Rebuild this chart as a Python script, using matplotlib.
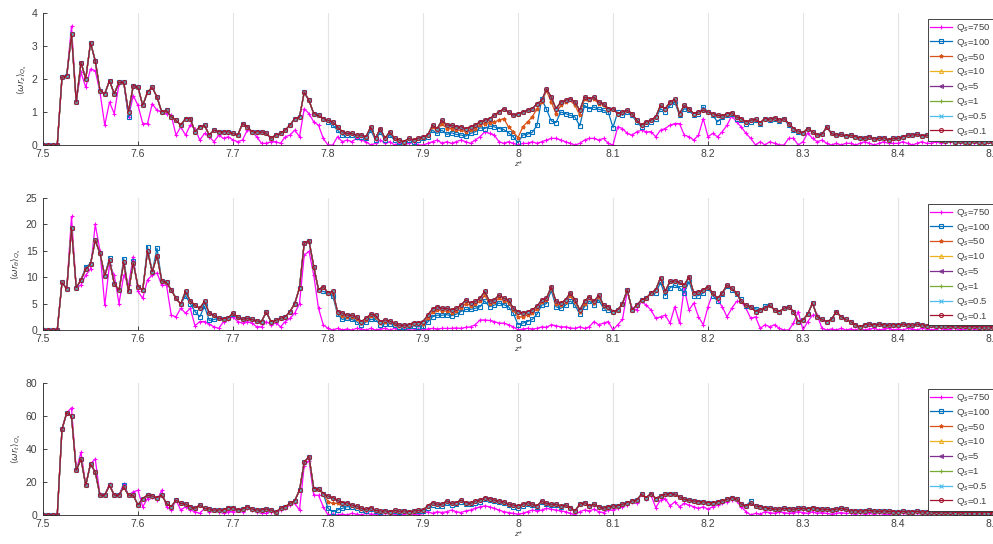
import numpy as np
import matplotlib
matplotlib.use("Agg")
import matplotlib.pyplot as plt
from matplotlib.ticker import FuncFormatter

plt.rcParams['font.family'] = ['Liberation Sans', 'DejaVu Sans']
plt.rcParams['mathtext.fontset'] = 'dejavusans'

# streamwise stations, 0.005 apart
z = np.round(np.linspace(7.5, 8.5, 201), 3)

q_labels = ['750', '100', '50', '10', '5', '1', '0.5', '0.1']
colors = ['#FF00FF', '#0072BD', '#D95319', '#EDB120',
          '#7E2F8E', '#77AC30', '#4DBEEE', '#A2142F']
markers = ['+', 's', '*', '^', '<', '+', 'x', 'o']

# ---- panel 1 : <w r_z> ----
wz_750 = [
    0, 0, 0, 0, 2.05, 2.1, 3.6, 1.35, 2.2, 1.75,
    2.3, 2.25, 1.6, 0.6, 1.3, 0.95, 1.85, 1.9, 0.85, 1.5,
    1.2, 0.65, 0.65, 1.25, 1.05, 1.0, 0.95, 0.9, 0.3, 0.55,
    0.3, 0.6, 0.5, 0.15, 0.35, 0.25, 0.1, 0.3, 0.2, 0.25,
    0.15, 0.1, 0.15, 0.45, 0.4, 0.25, 0.05, 0.05, 0.1, 0.1,
    0.05, 0.25, 0.3, 0.45, 0.25, 1.1, 0.95, 0.7, 0.6, 0.2,
    0.0, 0.0, 0.25, 0.1, 0.15, 0.1, 0.2, 0.15, 0.1, 0.0,
    0.05, 0.15, 0.05, 0.1, 0.0, 0.05, 0.0, 0.05, 0.1, 0.0,
    0.0, 0.05, 0.1, 0.15, 0.05, 0.1, 0.05, 0.1, 0.15, 0.1,
    0.05, 0.15, 0.25, 0.4, 0.35, 0.3, 0.1, 0.05, 0.1, 0.05,
    0.0, 0.05, 0.05, 0.1, 0.05, 0.1, 0.15, 0.2, 0.2, 0.15,
    0.1, 0.05, 0.0, 0.05, 0.15, 0.2, 0.2, 0.15, 0.2, 0.05,
    0.0, 0.55, 0.5, 0.35, 0.3, 0.4, 0.45, 0.4, 0.4, 0.25,
    0.45, 0.5, 0.6, 0.65, 0.65, 0.3, 0.25, 0.15, 0.3, 0.8,
    0.25, 0.35, 0.25, 0.4, 0.6, 0.88, 0.7, 0.55, 0.35, 0.2,
    0.0, 0.1, 0.0, 0.1, 0.05, 0.0, 0.0, 0.2, 0.2, 0.0,
    0.1, 0.37, 0.2, 0.1, 0.15, 0.05, 0.0, 0.05, 0.0, 0.05,
    0.05, 0.0, 0.05, 0.1, 0.05, 0.0, 0.05, 0.1, 0.05, 0.05,
    0.05, 0.1, 0.05, 0.0, 0.05, 0.1, 0.05, 0.05, 0.1, 0.05,
    0.05, 0.1, 0.05, 0.05, 0.1, 0.05, 0.05, 0.1, 0.05, 0.1,
    0.05]
wz_100 = [
    0, 0, 0, 0, 2.05, 2.1, 3.35, 1.3, 2.5, 2.0,
    3.1, 2.55, 1.65, 1.55, 1.95, 1.55, 1.9, 1.9, 0.85, 1.8,
    1.75, 1.2, 1.6, 1.75, 1.45, 1.0, 1.05, 0.85, 0.75, 0.6,
    0.8, 0.8, 0.4, 0.55, 0.6, 0.3, 0.45, 0.4, 0.4, 0.4,
    0.35, 0.3, 0.65, 0.55, 0.4, 0.4, 0.4, 0.35, 0.2, 0.3,
    0.35, 0.45, 0.6, 0.8, 0.85, 1.6, 1.35, 0.95, 0.9, 0.8,
    0.7, 0.6, 0.45, 0.3, 0.3, 0.3, 0.25, 0.25, 0.2, 0.45,
    0.15, 0.4, 0.15, 0.3, 0.15, 0.1, 0.1, 0.15, 0.1, 0.15,
    0.2, 0.25, 0.45, 0.35, 0.45, 0.32, 0.37, 0.32, 0.3, 0.27,
    0.35, 0.4, 0.52, 0.5, 0.57, 0.55, 0.5, 0.47, 0.37, 0.25,
    0.07, 0.3, 0.33, 0.38, 0.6, 1.4, 1.08, 0.73, 0.68, 1.0,
    0.95, 0.9, 0.85, 0.58, 1.2, 1.1, 1.15, 1.08, 1.05, 1.0,
    0.53, 1.0, 0.9, 1.0, 0.9, 0.7, 0.55, 0.65, 0.7, 0.8,
    1.1, 1.0, 1.2, 1.3, 0.9, 1.1, 1.05, 0.9, 0.95, 1.15,
    1.0, 0.9, 0.7, 0.85, 0.9, 0.95, 0.8, 0.75, 0.65, 0.7,
    0.75, 0.65, 0.78, 0.75, 0.8, 0.72, 0.78, 0.6, 0.45, 0.4,
    0.37, 0.5, 0.4, 0.3, 0.32, 0.55, 0.35, 0.3, 0.32, 0.28,
    0.3, 0.25, 0.22, 0.2, 0.25, 0.18, 0.2, 0.22, 0.15, 0.2,
    0.2, 0.25, 0.3, 0.3, 0.32, 0.28, 0.3, 0.25, 0.2, 0.15,
    0.12, 0.15, 0.1, 0.12, 0.1, 0.1, 0.12, 0.1, 0.1, 0.12,
    0.1]
wz_50 = [
    0, 0, 0, 0, 2.05, 2.1, 3.35, 1.3, 2.5, 2.0,
    3.1, 2.55, 1.65, 1.55, 1.95, 1.55, 1.9, 1.9, 1.0, 1.8,
    1.75, 1.2, 1.6, 1.75, 1.45, 1.0, 1.05, 0.85, 0.75, 0.6,
    0.8, 0.8, 0.4, 0.55, 0.6, 0.3, 0.45, 0.4, 0.4, 0.4,
    0.35, 0.3, 0.65, 0.55, 0.4, 0.4, 0.4, 0.35, 0.2, 0.3,
    0.35, 0.45, 0.6, 0.8, 0.85, 1.6, 1.35, 0.95, 0.9, 0.8,
    0.75, 0.7, 0.55, 0.4, 0.35, 0.35, 0.3, 0.3, 0.25, 0.55,
    0.2, 0.5, 0.2, 0.4, 0.2, 0.15, 0.1, 0.2, 0.15, 0.2,
    0.25, 0.3, 0.55, 0.45, 0.65, 0.5, 0.5, 0.45, 0.45, 0.4,
    0.45, 0.5, 0.6, 0.65, 0.68, 0.7, 0.75, 0.8, 0.55, 0.4,
    0.22, 0.55, 0.7, 0.85, 1.1, 1.3, 1.65, 1.3, 0.95, 1.2,
    1.3, 1.35, 1.2, 0.9, 1.4, 1.35, 1.4, 1.25, 1.2, 1.05,
    1.1, 0.95, 1.0, 1.05, 0.95, 0.75, 0.6, 0.7, 0.75, 0.85,
    1.2, 1.1, 1.3, 1.38, 0.95, 1.2, 1.1, 0.95, 1.0, 1.05,
    1.0, 0.95, 0.9, 0.88, 0.95, 0.98, 0.85, 0.8, 0.7, 0.75,
    0.78, 0.68, 0.8, 0.78, 0.83, 0.75, 0.8, 0.65, 0.5, 0.42,
    0.37, 0.5, 0.4, 0.3, 0.32, 0.55, 0.35, 0.3, 0.32, 0.28,
    0.3, 0.25, 0.22, 0.2, 0.25, 0.18, 0.2, 0.22, 0.15, 0.2,
    0.2, 0.25, 0.3, 0.3, 0.32, 0.28, 0.3, 0.25, 0.2, 0.15,
    0.12, 0.15, 0.1, 0.12, 0.1, 0.1, 0.12, 0.1, 0.1, 0.12,
    0.1]
# Q_s = 10, 5, 1, 0.5, 0.1 all sit on top of each other
wz_low = [
    0, 0, 0, 0, 2.05, 2.1, 3.35, 1.3, 2.5, 2.0,
    3.1, 2.55, 1.65, 1.55, 1.95, 1.55, 1.9, 1.9, 1.0, 1.8,
    1.75, 1.2, 1.6, 1.75, 1.45, 1.0, 1.05, 0.85, 0.75, 0.6,
    0.8, 0.8, 0.4, 0.55, 0.6, 0.3, 0.45, 0.4, 0.4, 0.4,
    0.35, 0.3, 0.65, 0.55, 0.4, 0.4, 0.4, 0.35, 0.2, 0.3,
    0.35, 0.45, 0.6, 0.8, 0.85, 1.6, 1.35, 0.95, 0.9, 0.8,
    0.75, 0.7, 0.55, 0.4, 0.35, 0.35, 0.3, 0.3, 0.25, 0.55,
    0.2, 0.5, 0.2, 0.4, 0.2, 0.15, 0.1, 0.2, 0.15, 0.2,
    0.25, 0.3, 0.6, 0.5, 0.75, 0.6, 0.6, 0.55, 0.55, 0.5,
    0.55, 0.6, 0.7, 0.75, 0.8, 0.9, 1.0, 1.1, 1.0, 0.9,
    0.95, 1.0, 1.05, 1.1, 1.25, 1.35, 1.7, 1.45, 1.1, 1.3,
    1.35, 1.4, 1.3, 1.05, 1.45, 1.4, 1.45, 1.3, 1.25, 1.1,
    1.1, 0.95, 1.0, 1.05, 0.95, 0.75, 0.6, 0.7, 0.75, 0.85,
    1.2, 1.1, 1.3, 1.38, 0.95, 1.2, 1.1, 0.95, 1.0, 1.05,
    1.0, 0.95, 0.9, 0.88, 0.95, 0.98, 0.85, 0.8, 0.7, 0.75,
    0.78, 0.68, 0.8, 0.78, 0.83, 0.75, 0.8, 0.65, 0.5, 0.42,
    0.37, 0.5, 0.4, 0.3, 0.32, 0.55, 0.35, 0.3, 0.32, 0.28,
    0.3, 0.25, 0.22, 0.2, 0.25, 0.18, 0.2, 0.22, 0.15, 0.2,
    0.2, 0.25, 0.3, 0.3, 0.32, 0.28, 0.3, 0.25, 0.2, 0.15,
    0.12, 0.15, 0.1, 0.12, 0.1, 0.1, 0.12, 0.1, 0.1, 0.12,
    0.1]

# ---- panel 2 : <w r_theta> ----
wt_750 = [
    0, 0, 0, 0, 9.0, 7.8, 21.5, 8.0, 8.5, 10.4,
    11.5, 20.0, 15.0, 4.7, 12.3, 10.4, 5.0, 10.4, 8.5, 13.9,
    7.3, 6.0, 9.5, 10.4, 10.8, 8.5, 8.5, 2.8, 2.5, 4.1,
    3.2, 4.1, 0.8, 1.6, 1.6, 1.1, 0.6, 0.3, 1.6, 2.0,
    2.5, 1.6, 1.3, 1.6, 1.3, 0.6, 0.6, 1.6, 1.0, 1.4,
    0.6, 1.6, 2.2, 3.2, 5.0, 14.2, 14.9, 10.4, 4.1, 1.0,
    0.3, 0.0, 0.3, 0.0, 0.2, 0.0, 0.3, 0.2, 0.0, 0.3,
    0.0, 0.2, 0.3, 0.0, 0.3, 0.0, 0.2, 0.0, 0.0, 0.2,
    0.0, 0.2, 0.3, 0.2, 0.3, 0.3, 0.3, 0.4, 0.3, 0.5,
    0.6, 1.0, 1.9, 1.9, 1.8, 1.6, 1.3, 1.3, 1.0, 0.6,
    0.0, 0.2, 0.3, 0.2, 0.3, 0.6, 0.5, 1.0, 0.8, 0.6,
    0.6, 0.4, 0.3, 0.6, 0.3, 0.6, 1.6, 1.0, 1.3, 1.6,
    0.0, 1.0, 2.0, 7.3, 4.1, 3.8, 5.4, 4.7, 3.8, 2.2,
    2.5, 2.8, 1.3, 4.4, 1.3, 7.9, 3.8, 5.1, 2.5, 1.0,
    4.4, 7.0, 5.7, 4.4, 2.5, 4.1, 5.4, 5.4, 4.1, 2.2,
    2.5, 0.3, 1.0, 0.6, 1.0, 0.3, 0.0, 0.0, 1.3, 3.5,
    0.0, 1.6, 2.8, 2.8, 0.3, 0.0, 0.2, 0.0, 0.3, 0.0,
    0.2, 0.0, 0.3, 0.0, 0.2, 0.3, 0.0, 0.2, 0.3, 0.0,
    0.2, 0.0, 0.3, 0.2, 0.0, 0.3, 0.2, 0.0, 0.2, 0.3,
    0.0, 0.2, 0.3, 0.0, 0.2, 0.3, 0.2, 0.0, 0.2, 0.3,
    0.2]
wt_100 = [
    0, 0, 0, 0, 9.0, 7.8, 19.3, 8.0, 9.5, 12.0,
    12.5, 17.0, 14.5, 10.3, 13.7, 8.8, 7.5, 13.5, 7.3, 13.0,
    8.2, 7.6, 15.8, 11.0, 15.5, 9.3, 9.0, 7.6, 6.0, 4.9,
    6.5, 5.0, 3.5, 2.5, 4.5, 1.8, 2.0, 2.2, 2.1, 2.3,
    3.0, 2.4, 2.0, 2.2, 2.0, 1.7, 1.6, 3.4, 1.6, 1.8,
    2.2, 2.5, 3.5, 5.0, 8.0, 16.5, 16.9, 12.0, 7.6, 7.3,
    7.0, 6.5, 3.0, 2.0, 2.2, 2.0, 1.6, 0.9, 1.5, 2.0,
    2.0, 1.0, 1.2, 1.2, 0.9, 0.6, 0.6, 0.7, 0.8, 0.6,
    0.8, 1.5, 2.5, 2.8, 2.8, 2.9, 2.7, 3.0, 3.5, 3.9,
    3.9, 4.1, 4.4, 5.5, 4.4, 4.7, 5.1, 4.8, 4.4, 3.2,
    1.0, 1.3, 1.6, 2.0, 3.0, 4.7, 5.0, 7.5, 4.4, 4.1,
    4.7, 5.5, 4.7, 3.0, 4.4, 5.5, 4.7, 5.7, 4.1, 3.8,
    3.5, 3.8, 5.0, 7.6, 3.8, 4.7, 5.7, 6.0, 7.0, 7.0,
    9.0, 6.5, 8.0, 8.5, 8.0, 7.0, 9.2, 6.5, 6.5, 7.0,
    8.0, 6.5, 5.5, 6.8, 8.3, 7.6, 6.8, 5.8, 4.5, 4.4,
    4.0, 3.8, 4.5, 4.7, 3.8, 3.5, 4.1, 4.4, 3.5, 1.6,
    1.9, 3.0, 5.1, 2.5, 2.0, 1.6, 2.0, 3.5, 2.5, 2.0,
    1.6, 1.0, 0.6, 1.0, 1.1, 1.0, 1.1, 1.0, 0.9, 1.0,
    1.0, 1.1, 1.0, 0.9, 1.1, 1.0, 0.8, 0.9, 0.8, 0.8,
    0.8, 0.7, 0.8, 0.7, 0.7, 0.6, 0.7, 0.6, 0.6, 0.6,
    0.6]
wt_50 = [
    0, 0, 0, 0, 9.0, 7.8, 19.3, 8.0, 9.5, 11.5,
    12.5, 17.0, 14.5, 10.3, 13.2, 8.8, 7.5, 12.8, 7.3, 12.7,
    8.2, 7.6, 14.9, 11.0, 14.1, 9.3, 9.0, 7.6, 6.0, 4.9,
    7.3, 5.5, 4.7, 4.1, 5.4, 3.2, 2.8, 2.2, 2.1, 2.3,
    3.2, 2.4, 2.0, 2.2, 2.0, 1.7, 1.6, 3.4, 1.6, 1.8,
    2.2, 2.5, 3.5, 5.0, 8.0, 16.5, 16.9, 12.0, 7.6, 8.2,
    7.0, 7.0, 3.3, 2.7, 2.5, 2.5, 2.1, 1.3, 1.9, 2.6,
    2.5, 1.3, 1.6, 1.5, 1.1, 0.8, 0.8, 0.9, 1.2, 1.2,
    1.2, 2.3, 3.4, 3.8, 3.6, 3.6, 3.3, 3.6, 4.2, 5.0,
    4.6, 4.9, 5.4, 6.6, 5.0, 5.3, 6.0, 5.5, 5.2, 3.8,
    2.5, 2.5, 2.8, 3.2, 4.0, 5.3, 5.6, 8.0, 5.0, 4.7,
    5.3, 6.5, 5.3, 3.5, 5.0, 6.0, 5.1, 6.3, 4.5, 4.2,
    3.5, 3.8, 5.0, 7.6, 3.8, 4.7, 5.7, 6.0, 7.0, 7.6,
    9.9, 7.3, 9.2, 9.3, 9.0, 8.5, 10.1, 7.0, 7.2, 7.6,
    8.2, 7.0, 6.0, 7.0, 8.5, 7.9, 7.0, 5.4, 4.7, 4.4,
    3.5, 3.8, 4.1, 4.7, 3.8, 3.5, 4.1, 4.4, 3.5, 1.6,
    1.9, 3.0, 5.1, 2.5, 2.0, 1.6, 2.0, 3.5, 2.5, 2.0,
    1.6, 1.0, 0.6, 1.0, 1.1, 1.0, 1.1, 1.0, 0.9, 1.0,
    1.0, 1.1, 1.0, 0.9, 1.1, 1.0, 0.8, 0.9, 0.8, 0.8,
    0.8, 0.7, 0.8, 0.7, 0.7, 0.6, 0.7, 0.6, 0.6, 0.6,
    0.6]
wt_low = [
    0, 0, 0, 0, 9.0, 7.8, 19.3, 8.0, 9.5, 11.5,
    12.5, 17.0, 14.5, 10.3, 13.2, 8.8, 7.5, 12.8, 7.3, 12.7,
    8.2, 7.6, 14.9, 11.0, 14.1, 9.3, 9.0, 7.6, 6.0, 4.9,
    7.3, 5.5, 4.7, 4.1, 5.4, 3.2, 2.8, 2.2, 2.1, 2.3,
    3.2, 2.4, 2.0, 2.2, 2.0, 1.7, 1.6, 3.4, 1.6, 1.8,
    2.2, 2.5, 3.5, 5.0, 8.0, 16.5, 16.9, 12.0, 7.6, 8.2,
    7.0, 7.3, 3.5, 3.2, 2.8, 2.8, 2.5, 1.6, 2.2, 3.0,
    2.8, 1.6, 1.9, 1.7, 1.3, 0.9, 0.9, 1.0, 1.4, 1.4,
    1.6, 2.8, 4.0, 4.4, 4.1, 4.1, 3.8, 4.1, 4.7, 5.7,
    5.1, 5.4, 6.0, 7.3, 5.4, 5.7, 6.6, 6.0, 5.7, 4.1,
    3.5, 3.2, 3.5, 3.8, 4.5, 5.7, 6.0, 8.2, 5.4, 5.1,
    5.7, 7.0, 5.7, 3.8, 5.4, 6.3, 5.4, 6.6, 4.7, 4.4,
    3.5, 3.8, 5.0, 7.6, 3.8, 4.7, 5.7, 6.0, 7.0, 7.6,
    9.9, 7.3, 9.2, 9.3, 9.0, 8.5, 10.1, 7.0, 7.2, 7.6,
    8.2, 7.0, 6.0, 7.0, 8.5, 7.9, 7.0, 5.4, 4.7, 4.4,
    3.5, 3.8, 4.1, 4.7, 3.8, 3.5, 4.1, 4.4, 3.5, 1.6,
    1.9, 3.0, 5.1, 2.5, 2.0, 1.6, 2.0, 3.5, 2.5, 2.0,
    1.6, 1.0, 0.6, 1.0, 1.1, 1.0, 1.1, 1.0, 0.9, 1.0,
    1.0, 1.1, 1.0, 0.9, 1.1, 1.0, 0.8, 0.9, 0.8, 0.8,
    0.8, 0.7, 0.8, 0.7, 0.7, 0.6, 0.7, 0.6, 0.6, 0.6,
    0.6]

# ---- panel 3 : <w r_t> ----
wr_750 = [
    0, 0, 0, 0, 52, 62, 65, 27, 38, 18,
    31, 34, 12, 12, 19, 12, 12, 19, 12, 14,
    15, 5, 10, 11, 9, 15, 5, 3, 9, 3,
    5, 3, 2, 1, 4, 2, 3, 2, 1, 2,
    2, 3, 2, 4, 3, 2, 1, 1, 2, 1,
    3, 4, 6, 7, 3, 30, 33, 12, 12, 5,
    0, 0.5, 0, 0.5, 0, 1, 0.5, 0, 1, 0.5,
    0.5, 0, 1, 0.5, 0.5, 0, 0.5, 1, 0.5, 0,
    1, 2, 1, 2, 1.5, 2, 3, 2, 1.5, 2.5,
    3, 4, 5, 5.5, 5, 4, 3, 2, 1.5, 1,
    0.5, 1, 2, 3, 2.5, 3, 4, 3.5, 3, 2.5,
    2, 1, 0, 2, 3, 2.5, 3.5, 2, 1.5, 3,
    3, 4, 5, 6, 8, 7, 13, 10, 12, 4.5,
    9, 10, 5.5, 8, 5, 7, 6, 5, 4, 5,
    3.5, 5, 6, 7, 8, 9, 8.5, 5, 2, 0,
    1, 0.5, 2, 1.5, 1, 2, 1.5, 1, 1.5, 2,
    1.5, 1, 2, 1, 1.5, 1, 0.5, 1, 1.5, 1,
    1, 0.5, 1, 0.5, 1, 0.5, 1, 0.5, 0.5, 1,
    0.5, 1, 0.5, 0.5, 1, 0.5, 0.5, 1, 0.5, 0.5,
    1, 0.5, 0.5, 1, 0.5, 0.5, 1, 0.5, 0.5, 1,
    0.5]
wr_100 = [
    0, 0, 0, 0, 52, 62, 60, 27, 34, 18,
    31, 26, 12, 12, 18, 12, 12, 18, 12, 12,
    6, 10, 12, 11.5, 10.5, 12, 7, 5, 9, 7,
    6.7, 5, 4, 6, 4, 3.6, 3, 3, 3, 4.5,
    4.5, 3, 3.6, 5, 3.6, 3, 3, 3.6, 3, 1.6,
    4, 5, 7, 8.7, 15, 32, 35.4, 16, 15.8, 13,
    4, 2, 3, 4, 5, 5, 4.5, 3, 2.5, 3.5,
    2.4, 2.0, 2.2, 1.8, 2.4, 2.0, 2.2, 1.8, 2.2, 2.4,
    2.5, 4.5, 6, 5.5, 5.5, 7, 6, 6.5, 8, 6.5,
    6.5, 7.5, 8, 9.5, 9, 8.5, 8, 7.5, 6, 5,
    4.5, 5.5, 6.5, 6, 5, 8, 6.5, 6, 6, 5,
    6, 4.5, 2.4, 6.5, 7.5, 5.5, 6.5, 5, 4, 5,
    5.5, 5.5, 6.5, 7.5, 8.5, 9, 12.5, 10.5, 13, 10,
    11.5, 12.5, 13, 12.5, 11, 9.5, 9, 8.5, 8, 8,
    7.5, 7.5, 8, 8.5, 9.5, 10.5, 10, 6.5, 5.5, 8.5,
    5.5, 5, 4.5, 4, 3.5, 3.5, 4, 3.8, 3.5, 4,
    4, 3.8, 4.5, 3.8, 3.5, 3.5, 3, 3.5, 4, 3.5,
    2.4, 2.6, 2.4, 2.5, 2.8, 2.4, 2.2, 2.5, 2.2, 2.0,
    2.0, 2.2, 1.8, 2.0, 2.2, 1.8, 2.0, 1.8, 1.6, 1.8,
    1.6, 1.8, 1.5, 1.6, 1.5, 1.4, 1.5, 1.4, 1.4, 1.5,
    1.4]
wr_50 = [
    0, 0, 0, 0, 52, 62, 60, 27, 34, 18,
    31, 26, 12, 12, 18, 12, 12, 17, 12, 12,
    6, 10, 12, 11.5, 10.5, 12, 7, 5, 9, 7,
    6.7, 5, 4, 6, 4, 3.6, 3, 3, 3, 4.5,
    4.5, 3, 3.6, 5, 3.6, 3, 3, 3.6, 3, 1.6,
    4, 5, 7, 8.7, 15, 32, 35.4, 16, 15.8, 13,
    8, 7, 7, 6.5, 7, 5.5, 5, 3.8, 3.2, 4.2,
    2.8, 2.4, 2.5, 2.0, 2.8, 2.2, 2.5, 2.0, 2.4, 2.8,
    3.0, 5.5, 7.5, 6.5, 6.5, 8.5, 7, 7.5, 9, 7.5,
    7, 8.5, 9, 10.5, 10, 9, 8.5, 8, 6.5, 6,
    5.5, 6.5, 7.5, 6.5, 5.5, 8.5, 7, 6.5, 6.5, 5.5,
    6, 4.5, 2.4, 6.5, 7.5, 5.5, 6.5, 5, 4, 5,
    5.5, 5.5, 6.5, 7.5, 8.5, 9, 12.5, 10.5, 13, 10,
    11.5, 12.5, 13, 12.5, 11, 9.5, 9, 8.5, 8, 8,
    7.5, 7.5, 8, 8.5, 9.5, 10.5, 10, 6.5, 5.5, 7,
    5.5, 5, 4.5, 4, 3.5, 3.5, 4, 3.8, 3.5, 4,
    4, 3.8, 4.5, 3.8, 3.5, 3.5, 3, 3.5, 4, 3.5,
    2.4, 2.6, 2.4, 2.5, 2.8, 2.4, 2.2, 2.5, 2.2, 2.0,
    2.0, 2.2, 1.8, 2.0, 2.2, 1.8, 2.0, 1.8, 1.6, 1.8,
    1.6, 1.8, 1.5, 1.6, 1.5, 1.4, 1.5, 1.4, 1.4, 1.5,
    1.4]
wr_low = [
    0, 0, 0, 0, 52, 62, 60, 27, 34, 18,
    31, 26, 12, 12, 18, 12, 12, 17, 12, 12,
    6, 10, 12, 11.5, 10.5, 12, 7, 5, 9, 7,
    6.7, 5, 4, 6, 4, 3.6, 3, 3, 3, 4.5,
    4.5, 3, 3.6, 5, 3.6, 3, 3, 3.6, 3, 1.6,
    4, 5, 7, 8.7, 15, 32, 35.4, 16, 15.8, 13,
    11.5, 10.5, 9, 7.5, 7.5, 6, 5.5, 4, 3.4, 4.5,
    2.8, 2.4, 2.5, 2.0, 2.8, 2.2, 2.5, 2.0, 2.4, 2.8,
    3.0, 5.5, 7.5, 6.5, 6.5, 8.5, 7, 7.5, 9, 7.5,
    7, 8.5, 9, 10.5, 10, 9, 8.5, 8, 6.5, 6,
    5.5, 6.5, 7.5, 6.5, 5.5, 8.5, 7, 6.5, 6.5, 5.5,
    6, 4.5, 2.4, 6.5, 7.5, 5.5, 6.5, 5, 4, 5,
    5.5, 5.5, 6.5, 7.5, 8.5, 9, 12.5, 10.5, 13, 10,
    11.5, 12.5, 13, 12.5, 11, 9.5, 9, 8.5, 8, 8,
    7.5, 7.5, 8, 8.5, 9.5, 10.5, 10, 6.5, 5.5, 7,
    5.5, 5, 4.5, 4, 3.5, 3.5, 4, 3.8, 3.5, 4,
    4, 3.8, 4.5, 3.8, 3.5, 3.5, 3, 3.5, 4, 3.5,
    2.4, 2.6, 2.4, 2.5, 2.8, 2.4, 2.2, 2.5, 2.2, 2.0,
    2.0, 2.2, 1.8, 2.0, 2.2, 1.8, 2.0, 1.8, 1.6, 1.8,
    1.6, 1.8, 1.5, 1.6, 1.5, 1.4, 1.5, 1.4, 1.4, 1.5,
    1.4]

panels = [
    ([wz_750, wz_100, wz_50] + [wz_low] * 5,
     r'$\langle\omega r_z\rangle_{Q_s}$', 4, [0, 1, 2, 3, 4]),
    ([wt_750, wt_100, wt_50] + [wt_low] * 5,
     r'$\langle\omega r_\theta\rangle_{Q_s}$', 25, [0, 5, 10, 15, 20, 25]),
    ([wr_750, wr_100, wr_50] + [wr_low] * 5,
     r'$\langle\omega r_t\rangle_{Q_s}$', 80, [0, 20, 40, 60, 80]),
]
bottoms = [1 - 145 / 544, 1 - 330 / 544, 1 - 515 / 544]

fig = plt.figure(figsize=(9.93, 5.44), dpi=100)
axcol = '#262626'
txtcol = '#404040'

for (series, ylab, ytop, yt), b in zip(panels, bottoms):
    ax = fig.add_axes([43 / 993, b, 950 / 993, 132 / 544])
    for vals, q, c, m in zip(series, q_labels, colors, markers):
        ax.plot(z, vals, color=c, marker=m, ms=2.8, mew=0.8, lw=0.9,
                mfc='none', label=r'Q$_s$=' + q)
    ax.set_xlim(7.5, 8.5)
    ax.set_ylim(0, ytop)
    ax.set_yticks(yt)
    ax.set_xticks(np.round(np.arange(7.5, 8.51, 0.1), 1))
    ax.xaxis.set_major_formatter(FuncFormatter(lambda v, p: '%g' % v))
    ax.grid(axis='x', color='#e3e3e3', lw=0.8)
    ax.set_axisbelow(True)
    for s in ['top', 'right']:
        ax.spines[s].set_visible(False)
    for s in ['left', 'bottom']:
        ax.spines[s].set_color(axcol)
        ax.spines[s].set_linewidth(0.6)
    ax.tick_params(direction='in', length=3, width=0.6, color=axcol,
                   labelsize=7.5, labelcolor=txtcol)
    ax.tick_params(axis='x', pad=3)
    ax.tick_params(axis='y', pad=4)
    ax.set_xlabel('z*', fontstyle='italic', fontsize=6, color=txtcol, labelpad=1)
    ax.set_ylabel(ylab, fontsize=6.5, color=txtcol, labelpad=2)
    leg = ax.legend(loc='upper right', bbox_to_anchor=(1.0, 1 - 6 / 132),
                    borderaxespad=0, fontsize=6.8, handlelength=2.3,
                    labelspacing=0.3, handletextpad=0.4, borderpad=0.3,
                    fancybox=False, framealpha=1)
    leg.get_frame().set_edgecolor(axcol)
    leg.get_frame().set_linewidth(0.6)
    for t in leg.get_texts():
        t.set_color(txtcol)

fig.savefig('out.png', dpi=100)
